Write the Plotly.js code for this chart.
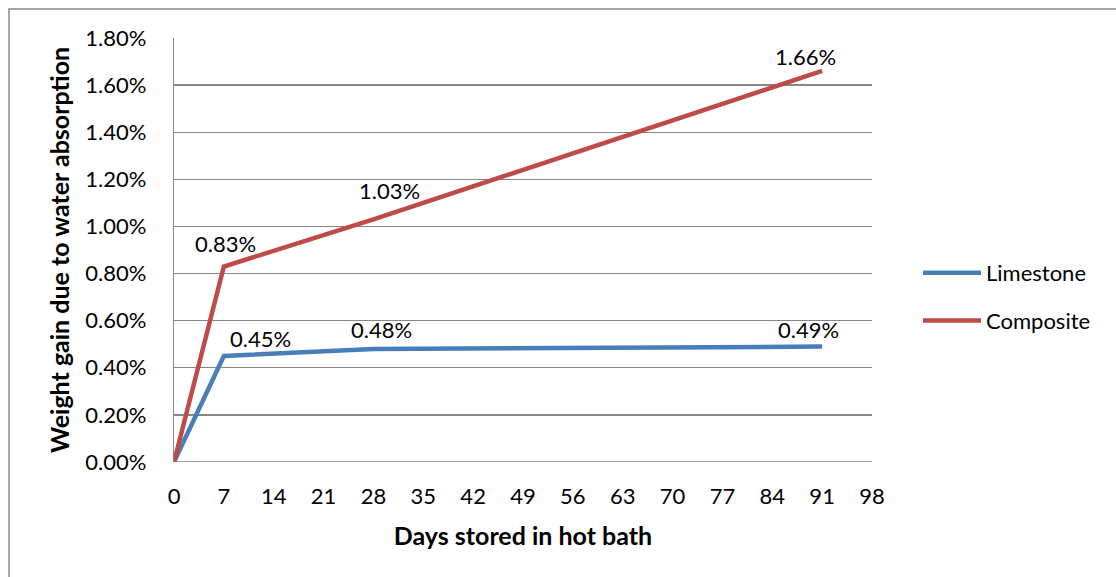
<!DOCTYPE html>
<html>
<head>
<meta charset="utf-8">
<script src="https://cdn.plot.ly/plotly-3.0.1.min.js"></script>
<style>
  html, body { margin: 0; padding: 0; background: #ffffff; }
  #chart { width: 1116px; height: 577px; }
</style>
</head>
<body>
<div id="chart"></div>
<script>
// Days stored in the hot bath
const days = [0, 7, 28, 91];
// Weight gain (fraction) for each material
const limestone = [0, 0.0045, 0.0048, 0.0049];
const composite = [0, 0.0083, 0.0103, 0.0166];
const seriesNames = ['Limestone', 'Composite'];
const xTicks = [0, 7, 14, 21, 28, 35, 42, 49, 56, 63, 70, 77, 84, 91, 98];
const yTicks = [0, 0.002, 0.004, 0.006, 0.008, 0.010, 0.012, 0.014, 0.016, 0.018];

// Label offsets (px) for each data label, per series, skipping the origin point
const limestoneOffsets = [null, [37, 18], [8, 19], [-14, 17]];
const compositeOffsets = [null, [2, 23], [16, 29], [-17, 14]];

const FONT = 'Lato, "Open Sans", sans-serif';
const blue = '#4A7EBB';
const red = '#BE4B48';
const grid = '#868686';

function pct(v) { return (v * 100).toFixed(2) + '%'; }

function labelsFor(xs, ys, offsets) {
  const out = [];
  for (let i = 0; i < xs.length; i++) {
    if (!offsets[i]) continue;
    out.push({
      x: xs[i], y: ys[i], xref: 'x', yref: 'y',
      text: pct(ys[i]), showarrow: false,
      xanchor: 'center', yanchor: 'middle',
      xshift: offsets[i][0], yshift: offsets[i][1],
      font: { family: FONT, size: 22, color: '#000000' }
    });
  }
  return out;
}

const traces = [
  { x: days, y: limestone, name: seriesNames[0], legendgroup: 'limestone',
    type: 'scatter', mode: 'lines', line: { color: blue, width: 4.5 } },
  { x: days, y: composite, name: seriesNames[1], legendgroup: 'composite',
    type: 'scatter', mode: 'lines', line: { color: red, width: 4.5 } }
];

// pixel -> paper helpers for the chart frame
const L = 174, R = 872, T = 38, B = 462;
const px = v => (v - L) / (R - L);
const py = v => (B - v) / (B - T);

const layout = {
  width: 1116, height: 577,
  margin: { l: L, r: 1116 - R, t: T, b: 577 - B, pad: 0 },
  paper_bgcolor: '#ffffff', plot_bgcolor: '#ffffff',
  font: { family: FONT, size: 22, color: '#000000' },
  showlegend: true,
  legend: {
    x: px(918), y: py(252), xanchor: 'left', yanchor: 'top',
    font: { family: FONT, size: 22, color: '#000000' },
    tracegroupgap: 16, itemwidth: 58, bgcolor: 'rgba(0,0,0,0)'
  },
  xaxis: {
    range: [0, 98], tickvals: xTicks, ticktext: xTicks.map(String),
    showgrid: false, zeroline: false, showline: false, ticks: '',
    ticklabelstandoff: 19,
    tickfont: { family: FONT, size: 22, color: '#000000' },
    title: { text: '<b>Days stored in hot bath</b>', standoff: 19,
             font: { family: FONT, size: 25, color: '#000000' } },
    fixedrange: true
  },
  yaxis: {
    range: [0, 0.018], tickvals: yTicks, ticktext: yTicks.map(pct),
    showgrid: true, gridcolor: grid, gridwidth: 1.3,
    zeroline: false, showline: true, linecolor: grid, linewidth: 1.3,
    ticks: '', ticklabelstandoff: 22,
    tickfont: { family: FONT, size: 22, color: '#000000' },
    title: { text: '<b>Weight gain due to water absorption</b>', standoff: 8,
             font: { family: FONT, size: 25, color: '#000000' } },
    fixedrange: true
  },
  annotations: [
    ...labelsFor(days, limestone, limestoneOffsets),
    ...labelsFor(days, composite, compositeOffsets)
  ],
  shapes: [
    // outer chart frame
    { type: 'rect', xref: 'paper', yref: 'paper',
      x0: px(9), x1: px(1125), y0: py(590), y1: py(9),
      line: { color: '#888888', width: 1.5 }, fillcolor: 'rgba(0,0,0,0)', layer: 'below' },
    // bottom (0%) gridline across the plot
    { type: 'line', xref: 'paper', yref: 'y', x0: 0, x1: 1, y0: 0, y1: 0,
      line: { color: grid, width: 1.3 }, layer: 'below' }
  ]
};

Plotly.newPlot('chart', traces, layout, { staticPlot: true, displayModeBar: false });
</script>
</body>
</html>
